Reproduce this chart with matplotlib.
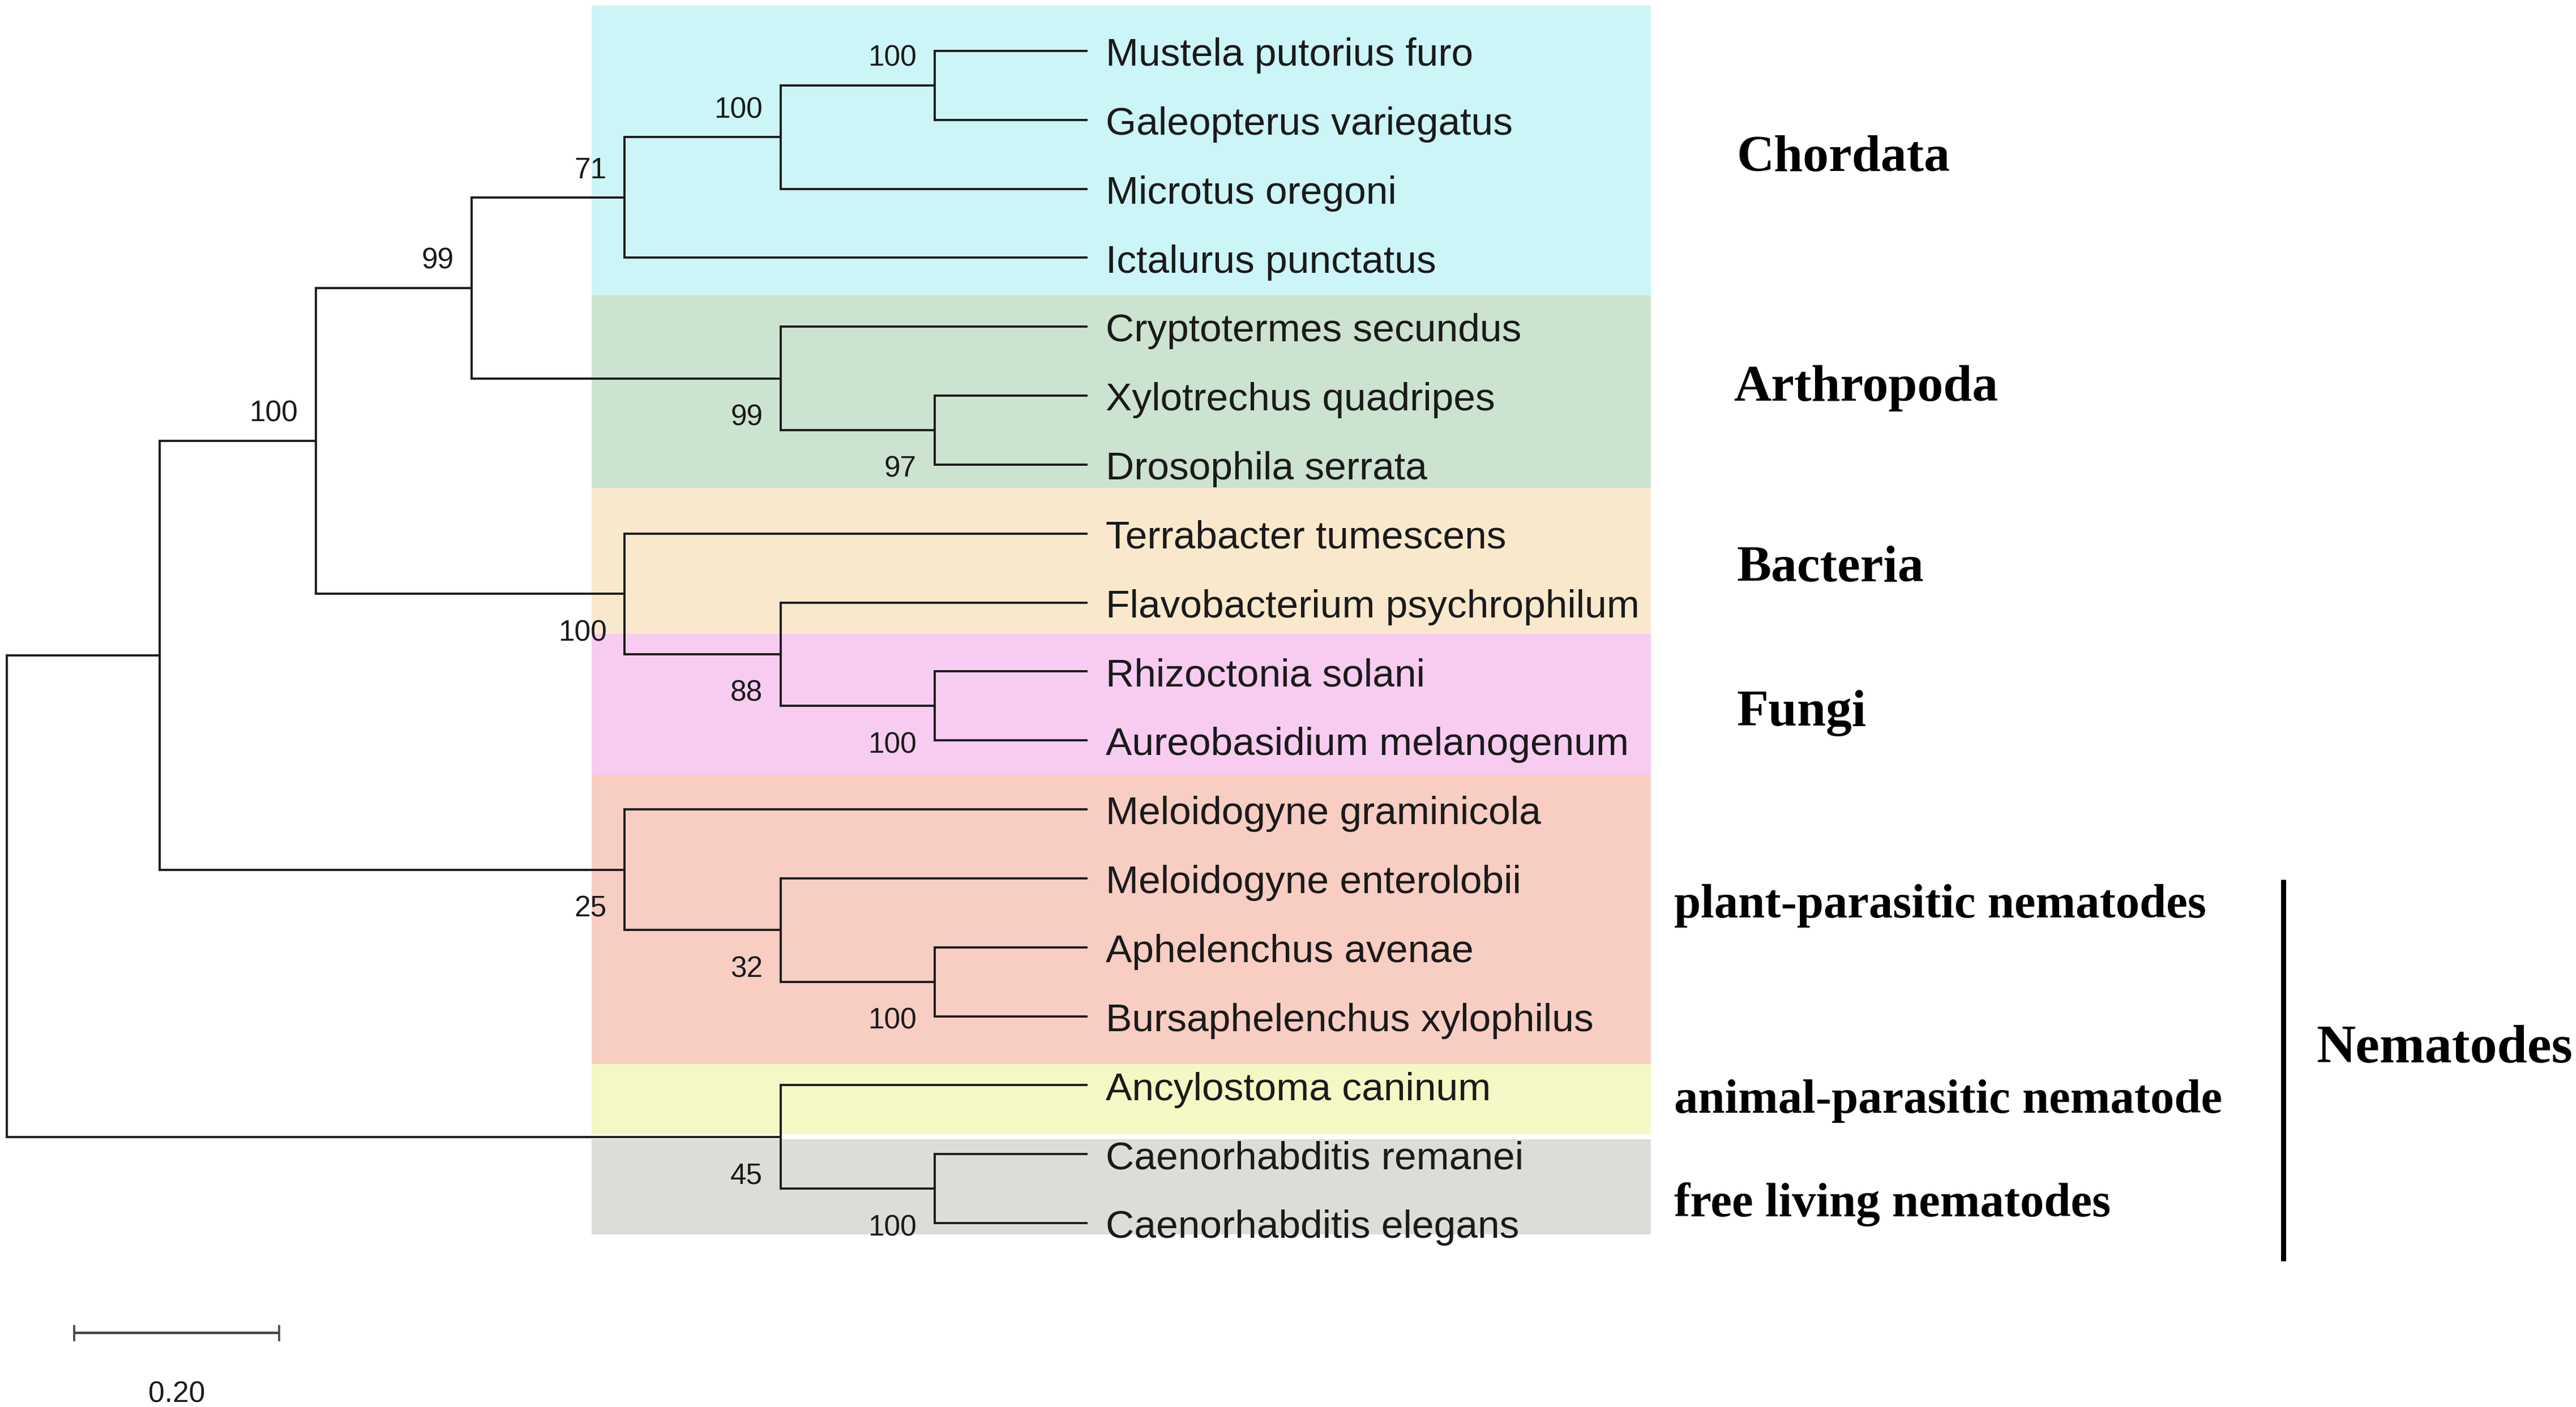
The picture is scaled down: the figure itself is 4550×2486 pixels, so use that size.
import matplotlib
matplotlib.use("Agg")
import matplotlib.pyplot as plt
from matplotlib.patches import Rectangle

# ---------------- data ----------------
leaf_names = [
    "Mustela putorius furo", "Galeopterus variegatus", "Microtus oregoni",
    "Ictalurus punctatus", "Cryptotermes secundus", "Xylotrechus quadripes",
    "Drosophila serrata", "Terrabacter tumescens", "Flavobacterium psychrophilum",
    "Rhizoctonia solani", "Aureobasidium melanogenum", "Meloidogyne graminicola",
    "Meloidogyne enterolobii", "Aphelenchus avenae", "Bursaphelenchus xylophilus",
    "Ancylostoma caninum", "Caenorhabditis remanei", "Caenorhabditis elegans",
]
leaf_depth = [1.053] * 18

node_names = ["root", "A", "B", "C", "Chord", "M", "MG", "Arth", "X",
              "Bact", "F", "RA", "P", "Q", "AB", "N3", "CE"]
node_depth = [0.0, 0.149, 0.301, 0.453, 0.602, 0.754, 0.904, 0.754, 0.904,
              0.602, 0.754, 0.904, 0.602, 0.754, 0.904, 0.754, 0.904]
node_children = [
    ("A", "N3"), ("B", "P"), ("C", "Bact"), ("Chord", "Arth"),
    ("M", "Ictalurus punctatus"), ("MG", "Microtus oregoni"),
    ("Mustela putorius furo", "Galeopterus variegatus"),
    ("Cryptotermes secundus", "X"), ("Xylotrechus quadripes", "Drosophila serrata"),
    ("Terrabacter tumescens", "F"), ("Flavobacterium psychrophilum", "RA"),
    ("Rhizoctonia solani", "Aureobasidium melanogenum"),
    ("Meloidogyne graminicola", "Q"), ("Meloidogyne enterolobii", "AB"),
    ("Aphelenchus avenae", "Bursaphelenchus xylophilus"),
    ("Ancylostoma caninum", "CE"), ("Caenorhabditis remanei", "Caenorhabditis elegans"),
]
node_support = [None, None, 100, 99, 71, 100, 100, 99, 97, 100, 88, 100, 25, 32, 100, 45, 100]

group_names = ["Chordata", "Arthropoda", "Bacteria", "Fungi",
               "plant-parasitic", "animal-parasitic", "free living"]
group_colors = ["#ccf5f8", "#cce3cf", "#f9e8cc", "#f7ccf0", "#f8cdc2", "#f5f8c4", "#dcddd6"]
group_top = [-0.667, 3.548, 6.333, 8.452, 10.5, 14.69, 15.786]
group_bottom = [3.548, 6.333, 8.452, 10.5, 14.69, 15.71, 17.167]

clade_labels = ["Chordata", "Arthropoda", "Bacteria", "Fungi"]
clade_label_y = [1.738, 5.071, 7.690, 9.786]          # baselines (leaf units)
sub_labels = ["plant-parasitic nematodes", "animal-parasitic nematode", "free living nematodes"]
sub_label_y = [12.57, 15.40, 16.90]
nema_label = "Nematodes"
scale_value = 0.20

# ---------------- layout ----------------
W, H = 4550, 2486
fig = plt.figure(figsize=(W / 100, H / 100), dpi=100)
ax = fig.add_axes([0, 0, 1, 1])
ax.set_xlim(-4 / 625, 1564 / 625)
ax.set_ylim((857 - 31) / 42, -31 / 42)
ax.axis("off")

LINE = "#1c1c1c"
LW = 2.8

# colored background boxes
box_x0, box_x1 = 0.5696, 1.6016
for top, bot, col in zip(group_top, group_bottom, group_colors):
    ax.add_patch(Rectangle((box_x0, top), box_x1 - box_x0, bot - top,
                           facecolor=col, edgecolor="none", zorder=0))

# tree geometry
pos_x = {n: d for n, d in zip(leaf_names, leaf_depth)}
pos_y = {n: i for i, n in enumerate(leaf_names)}
kids = dict(zip(node_names, node_children))
pos_x.update(dict(zip(node_names, node_depth)))


def get_y(n):
    if n in pos_y:
        return pos_y[n]
    c0, c1 = kids[n]
    pos_y[n] = (get_y(c0) + get_y(c1)) / 2.0
    return pos_y[n]


get_y("root")
child_index = {}
for n in node_names:
    for k, c in enumerate(kids[n]):
        child_index[c] = k

for n in node_names:
    c0, c1 = kids[n]
    x = pos_x[n]
    ax.plot([x, x], [pos_y[c0], pos_y[c1]], color=LINE, lw=LW,
            solid_capstyle="projecting", zorder=2)
    for c in (c0, c1):
        ax.plot([x, pos_x[c]], [pos_y[c], pos_y[c]], color=LINE, lw=LW,
                solid_capstyle="butt", zorder=2)

# leaf labels
for n in leaf_names:
    ax.text(pos_x[n] + 0.0176, pos_y[n] + 0.214, n, ha="left", va="baseline",
            fontsize=50, family="Liberation Sans", color="#1a1a1a", zorder=3)

# bootstrap values
for n, s in zip(node_names, node_support):
    if s is None:
        continue
    off = -0.45 if child_index.get(n, 0) == 0 else 0.51
    ax.text(pos_x[n] - 0.0176, pos_y[n] + off + 0.17, str(s), ha="right",
            va="baseline", fontsize=37, family="Liberation Sans",
            color="#1a1a1a", zorder=3)

# clade labels
serif = "Liberation Serif"
for lab, y in zip(clade_labels, clade_label_y):
    ax.text(1.6848 - (0.003 if lab == "Arthropoda" else 0), y, lab, ha="left",
            va="baseline", fontsize=66, family=serif, weight="bold", color="black")
for lab, y in zip(sub_labels, sub_label_y):
    ax.text(1.624, y, lab, ha="left", va="baseline", fontsize=61,
            family=serif, weight="bold", color="black")
ax.plot([2.2176, 2.2176], [12.02, 17.55], color="black", lw=6.5,
        solid_capstyle="butt")
ax.text(2.2496, 14.667, nema_label, ha="left", va="baseline", fontsize=69,
        family=serif, weight="bold", color="black")

# scale bar
sb_x0 = 0.0656
sb_y = 18.595
ax.plot([sb_x0, sb_x0 + scale_value], [sb_y, sb_y], color="#444444", lw=3.2,
        solid_capstyle="butt")
for xx in (sb_x0, sb_x0 + scale_value):
    ax.plot([xx, xx], [sb_y - 0.1, sb_y + 0.1], color="#444444", lw=2.6)
ax.text(sb_x0 + scale_value / 2, 19.6, f"{scale_value:.2f}", ha="center",
        va="baseline", fontsize=37, family="Liberation Sans", color="#1a1a1a")

fig.savefig("out.png", dpi=100, facecolor="white")
